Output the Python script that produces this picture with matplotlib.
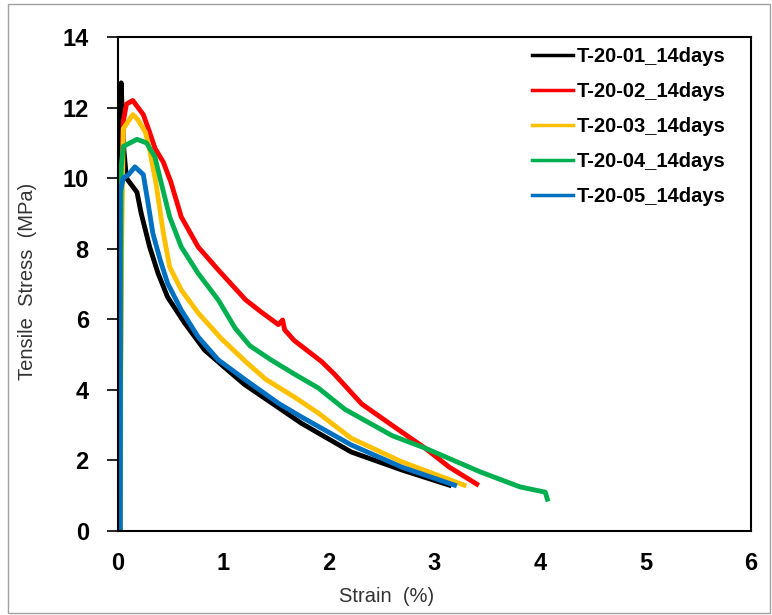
import matplotlib
matplotlib.use("Agg")
import matplotlib.pyplot as plt
from matplotlib.patches import Rectangle

plt.rcParams['font.family'] = ['Liberation Sans', 'DejaVu Sans']

# strain (%) / tensile stress (MPa)
s01_x = [0.0, 0.02, 0.03, 0.05, 0.08, 0.13, 0.18, 0.22, 0.30, 0.38, 0.47, 0.63, 0.82, 1.04, 1.20, 1.52, 1.74, 2.21, 2.69, 3.14]
s01_y = [0.0, 8.0, 12.7, 11.0, 10.0, 9.8, 9.6, 9.0, 8.05, 7.3, 6.63, 5.9, 5.13, 4.56, 4.15, 3.5, 3.05, 2.24, 1.73, 1.3]

s02_x = [0.02, 0.03, 0.05, 0.08, 0.14, 0.19, 0.24, 0.30, 0.35, 0.43, 0.50, 0.60, 0.76, 0.95, 1.21, 1.36, 1.52, 1.56, 1.58, 1.67, 1.93, 2.05, 2.31, 2.62, 2.91, 3.14, 3.40]
s02_y = [0.0, 9.5, 11.6, 12.1, 12.2, 12.0, 11.8, 11.3, 10.85, 10.45, 9.9, 8.9, 8.05, 7.4, 6.55, 6.2, 5.85, 5.98, 5.7, 5.4, 4.8, 4.45, 3.6, 2.95, 2.35, 1.81, 1.33]

s03_x = [0.02, 0.03, 0.05, 0.14, 0.19, 0.26, 0.30, 0.36, 0.43, 0.49, 0.60, 0.76, 0.98, 1.21, 1.40, 1.67, 1.90, 2.21, 2.69, 3.28]
s03_y = [0.0, 7.0, 11.4, 11.8, 11.65, 11.3, 10.8, 9.86, 8.44, 7.48, 6.83, 6.18, 5.45, 4.8, 4.3, 3.8, 3.34, 2.63, 1.96, 1.3]

s04_x = [0.02, 0.03, 0.05, 0.18, 0.27, 0.35, 0.41, 0.49, 0.60, 0.76, 0.95, 1.11, 1.25, 1.45, 1.67, 1.90, 2.15, 2.60, 2.91, 3.43, 3.81, 4.05, 4.07]
s04_y = [0.0, 10.3, 10.9, 11.1, 11.0, 10.6, 9.86, 8.9, 8.05, 7.3, 6.55, 5.75, 5.25, 4.85, 4.45, 4.05, 3.45, 2.7, 2.35, 1.68, 1.25, 1.1, 0.9]

s05_x = [0.02, 0.02, 0.05, 0.10, 0.16, 0.24, 0.28, 0.33, 0.40, 0.47, 0.60, 0.76, 0.95, 1.20, 1.52, 1.74, 2.21, 2.69, 3.19]
s05_y = [0.0, 9.6, 10.0, 10.1, 10.32, 10.1, 9.38, 8.44, 7.68, 7.02, 6.26, 5.5, 4.85, 4.3, 3.62, 3.23, 2.44, 1.81, 1.3]

labels = ['T-20-01_14days', 'T-20-02_14days', 'T-20-03_14days', 'T-20-04_14days', 'T-20-05_14days']
colors = ['#000000', '#ff0000', '#ffc000', '#00b050', '#0070c0']
series = [(s01_x, s01_y), (s02_x, s02_y), (s03_x, s03_y), (s04_x, s04_y), (s05_x, s05_y)]

fig = plt.figure(figsize=(7.72, 6.15), dpi=100)
ax = fig.add_axes([118 / 772, 1 - 531 / 615, (751 - 118) / 772, (531 - 37) / 615])

for (x, y), c, lab in zip(series, colors, labels):
    ax.plot(x, y, color=c, lw=3.5, label=lab, solid_joinstyle='round')

ax.set_xlim(0, 6)
ax.set_ylim(0, 14)
ax.set_xticks(range(0, 7))
ax.set_yticks(range(0, 15, 2))
ax.tick_params(axis='x', length=0, pad=15, labelsize=17)
ax.tick_params(axis='y', length=8, width=1.2, direction='out', pad=13, labelsize=17)
for lab in ax.get_xticklabels() + ax.get_yticklabels():
    lab.set_fontweight('bold')
for sp in ax.spines.values():
    sp.set_linewidth(1.5)
    sp.set_color('#000000')

leg = ax.legend(loc='upper left', bbox_to_anchor=(0.654, 0.980), frameon=False,
                borderpad=0, borderaxespad=0, handlelength=2.05, handletextpad=0.15,
                labelspacing=0.8, prop={'weight': 'bold', 'size': 14.5})
for h in leg.get_lines():
    h.set_linewidth(2.5)

fig.text(387 / 772, 1 - 597 / 615, 'Strain  (%)', ha='center', va='center', fontsize=14.5, color='#333333')
fig.text(28 / 772, 1 - 281 / 615, 'Tensile  Stress  (MPa)', ha='center', va='center', rotation=90,
         fontsize=14.5, color='#333333')

fig.patches.append(Rectangle((8 / 772, 2 / 615), 762 / 772, 609 / 615, transform=fig.transFigure,
                             fill=False, edgecolor='#a0a0a0', lw=1.0))

fig.savefig('out.png', dpi=100)
